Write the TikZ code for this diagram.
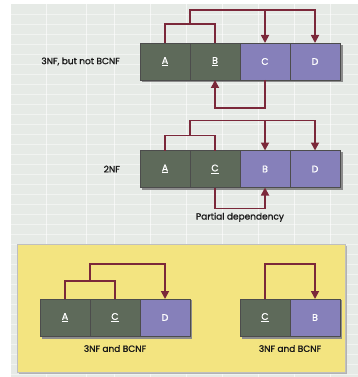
\documentclass[tikz,border=0pt]{standalone}
\usepackage{fontspec}
\setmainfont{Poppins}
\newfontfamily\medfont[FakeBold=1.2]{Poppins}
\usetikzlibrary{positioning,arrows.meta,calc}
\definecolor{keygreen}{RGB}{94,106,90}
\definecolor{attrpurple}{RGB}{134,128,186}
\definecolor{linkred}{RGB}{123,40,58}
\definecolor{panelyellow}{RGB}{243,228,128}
\definecolor{paper}{RGB}{230,234,230}
\tikzset{
  cell/.style={minimum width=50pt, minimum height=37pt, inner sep=0pt, outer sep=0pt,
    draw=black!70, line width=0.6pt, text=white, font=\medfont\fontsize{9.5}{10}\selectfont},
  key/.style={cell, fill=keygreen},
  attr/.style={cell, fill=attrpurple},
  link/.style={draw=linkred, line width=1.7pt},
  arr/.style={link, -{Triangle[width=8pt,length=8pt]}},
  lbl/.style={font=\medfont\fontsize{9}{10}\selectfont, inner sep=1pt, text=black!90},
  shade/.style={fill=black!45}
}
\begin{document}
\begin{tikzpicture}[x=1pt,y=-1pt]
        \useasboundingbox (0,0) rectangle (358,377);
        \fill[paper] (11,4) rectangle (358,377);
        \foreach \y in {14,24,...,374}
            \draw[white, opacity=0.45, line width=0.6pt] (11,\y) -- (358,\y);
        \foreach \x in {46,86,114,150,186,222,258,294,330}
            \draw[white, opacity=0.6, line width=0.8pt] (\x,4) -- (\x,377);

        % panel
        \fill[black!30] (19,246) rectangle (347,374);
        \filldraw[panelyellow, draw=black!25] (17,244) rectangle (345,372);

        % 3NF, but not BCNF
        \fill[shade] (142,45) rectangle (343,82);
        \node[key] (aA) at (165,61.5) {\underline{A}};
        \node[key, right=0pt of aA] (aB) {\underline{B}};
        \node[attr, right=0pt of aB] (aC) {C};
        \node[attr, right=0pt of aC] (aD) {D};
        \node[lbl, left=19pt of aA] (aL) {3NF, but not BCNF};

        \draw[link] (aA.north) -- ++(0,-19) -| (aB.north);
        \coordinate (aK) at ($(aA.north)!0.5!(aB.north)+(0,-19)$);
        \draw[arr] (aK) -- ++(0,-14) -| (aD.north);
        \draw[arr] (aC.north |- 0,10) -- (aC.north);
        \draw[arr] (aC.south) -- ++(0,28) -| (aB.south);

        % 2NF
        \fill[shade] (142,152) rectangle (343,190);
        \node[key] (bA) at (165,169) {\underline{A}};
        \node[key, right=0pt of bA] (bC) {\underline{C}};
        \node[attr, right=0pt of bC] (bB) {B};
        \node[attr, right=0pt of bB] (bD) {D};
        \node[lbl, left=19pt of bA] (bL) {2NF};

        \draw[link] (bA.north) -- ++(0,-15) -| (bC.north);
        \coordinate (bK) at ($(bA.north)!0.5!(bC.north)+(0,-15)$);
        \draw[arr] (bK) -- ++(0,-15) -| (bD.north);
        \draw[arr] (bB.north |- 0,120) -- (bB.north);
        \draw[arr] (bC.south) -- ++(0,21) coordinate (bP) -| (bB.south);
        \node[lbl, anchor=north] (bN) at ($(bP)!0.5!(bP -| bB.south)+(0,3)$) {Partial dependency};

        % 3NF and BCNF, left
        \fill[shade] (42,300) rectangle (192,339);
        \node[key] (cA) at (65,317.5) {\underline{A}};
        \node[key, right=0pt of cA] (cC) {\underline{C}};
        \node[attr, right=0pt of cC] (cD) {D};
        \node[lbl, below=8pt of cC] (cL) {3NF and BCNF};

        \draw[link] (cA.north) -- ++(0,-18) -| (cC.north);
        \coordinate (cK) at ($(cA.north)!0.5!(cC.north)+(0,-18)$);
        \draw[arr] (cK) -- ++(0,-17) -| (cD.north);

        % 3NF and BCNF, right
        \fill[shade] (242,300) rectangle (342,339);
        \node[key] (dC) at (265,317.5) {\underline{C}};
        \node[attr, right=0pt of dC] (dB) {B};
        \node[lbl, below=8pt of dC.south east] (dL) {3NF and BCNF};

        \draw[arr] (dC.north) -- ++(0,-35) -| (dB.north);
    \end{tikzpicture}
\end{document}
